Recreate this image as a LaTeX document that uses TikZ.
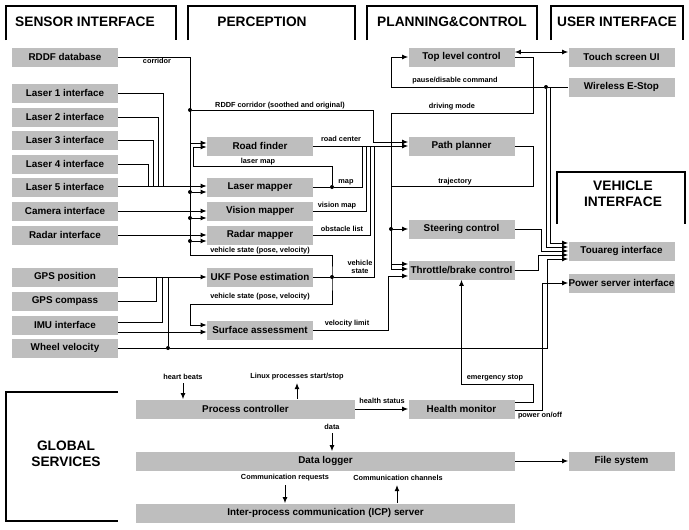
\documentclass[tikz,border=0pt]{standalone}
\usepackage{fontspec}
\setmainfont{Liberation Sans}
\usetikzlibrary{arrows.meta}
\definecolor{boxgray}{RGB}{190,190,190}
\tikzset{
  box/.style={fill=boxgray, inner sep=0pt, minimum width=79.5pt, minimum height=14.25pt, font=\fontsize{7.4}{8}\selectfont\bfseries},
  hdr/.style={font=\fontsize{10.3}{12}\selectfont\bfseries, align=center, inner sep=0pt},
  lab/.style={font=\fontsize{5.5}{6.4}\selectfont\bfseries, inner sep=0pt, align=center},
  hframe/.style={line width=1.5pt},
  conn/.style={line width=0.75pt},
  arr/.style={conn, -{Latex[length=4.5pt,width=3.6pt]}},
  darr/.style={conn, {Latex[length=4.5pt,width=3.6pt]}-{Latex[length=4.5pt,width=3.6pt]}},
  jdot/.style={circle, fill=black, inner sep=0pt, minimum size=3pt},
}
\begin{document}
\begin{tikzpicture}[x=0.75pt,y=-0.75pt]
\useasboundingbox (0,0) rectangle (689,529);
% header frames
\draw[hframe] (6,40) -- (6,6) -- (176,6) -- (176,40);
\node[hdr] (hsens) at (85,22) {SENSOR INTERFACE};
\draw[hframe] (188,40) -- (188,6) -- (355,6) -- (355,40);
\node[hdr] (hperc) at (262,22) {PERCEPTION};
\draw[hframe] (367,40) -- (367,6) -- (537,6) -- (537,40);
\node[hdr] (hplan) at (452,22) {PLANNING\&CONTROL};
\draw[hframe] (551,40) -- (551,6) -- (683,6) -- (683,40);
\node[hdr] (huser) at (617,22) {USER INTERFACE};
\draw[hframe] (557,224) -- (557,172) -- (685,172) -- (685,224);
\node[hdr] (hveh) at (623,194) {VEHICLE\\INTERFACE};
\draw[hframe] (118,392) -- (6,392) -- (6,521) -- (118,521);
\node[hdr] (hglob) at (66,454) {GLOBAL\\SERVICES};

% sensor interface
\node[box] (rddf) at (65,57) {RDDF database};
\node[box] (l1) at (65,93) {Laser 1 interface};
\node[box] (l2) at (65,117) {Laser 2 interface};
\node[box] (l3) at (65,140) {Laser 3 interface};
\node[box] (l4) at (65,164) {Laser 4 interface};
\node[box] (l5) at (65,187) {Laser 5 interface};
\node[box] (cam) at (65,211) {Camera interface};
\node[box] (radar) at (65,235) {Radar interface};
\node[box] (gpsp) at (65,277) {GPS position};
\node[box] (gpsc) at (65,301) {GPS compass};
\node[box] (imu) at (65,325) {IMU interface};
\node[box] (wheel) at (65,348) {Wheel velocity};
% perception
\node[box] (rf) at (260,146) {Road finder};
\node[box] (lm) at (260,187) {Laser mapper};
\node[box] (vm) at (260,211) {Vision mapper};
\node[box] (rm) at (260,235) {Radar mapper};
\node[box] (ukf) at (260,277) {UKF Pose estimation};
\node[box] (sa) at (260,330) {Surface assessment};
% planning
\node[box] (tlc) at (461.5,57) {Top level control};
\node[box] (pp) at (461.5,146) {Path planner};
\node[box] (sc) at (461.5,229) {Steering control};
\node[box] (tb) at (461.5,270) {Throttle/brake control};
% user / vehicle
\node[box] (ts) at (621.5,57) {Touch screen UI};
\node[box] (es) at (621.5,87) {Wireless E-Stop};
\node[box] (tou) at (621.5,251) {Touareg interface};
\node[box] (ps) at (621.5,283) {Power server interface};
% global services
\node[box, minimum width=164.25pt] (pc) at (245.5,409) {Process controller};
\node[box] (hm) at (461.5,409) {Health monitor};
\node[box, minimum width=284.25pt] (dl) at (325.5,461) {Data logger};
\node[box] (fs) at (621.5,461) {File system};
\node[box, minimum width=284.25pt] (icp) at (325.5,513) {Inter-process communication (ICP) server};

% junction dots
\node[jdot] (d1) at (190,110) {};
\node[jdot] (d2) at (190,192) {};
\node[jdot] (d3) at (190,218) {};
\node[jdot] (d4) at (190,241) {};
\node[jdot] (d5) at (332,187) {};
\node[jdot] (d6) at (332,277) {};
\node[jdot] (d7) at (168,348) {};
\node[jdot] (d8) at (391,229) {};
\node[jdot] (d9) at (546,87) {};

% RDDF corridor
\draw[arr] (rddf.east) -| (190,143) -- (rf.west |- 0,143);
\node[lab] (tcorr) at (157,61) {corridor};
\draw[arr] (d1) -- (373,110) -- (373,142) -- (pp.west |- 0,142);
\node[lab] (trddfc) at (280,106) {RDDF corridor (soothed and original)};

% vehicle state distribution
\draw[conn] (190,143) -- (190,255) -- (332,255) -- (d6.center) -- (332,304) -- (190,304) -- (190,325);
\draw[arr] (190,325) -- (sa.west |- 0,325);
\draw[arr] (d2) -- (lm.west |- 0,192);
\draw[arr] (d3) -- (vm.west |- 0,218);
\draw[arr] (d4) -- (rm.west |- 0,241);
\node[lab] (tvs1) at (260,251) {vehicle state (pose, velocity)};
\node[lab] (tvs2) at (260,297) {vehicle state (pose, velocity)};

% lasers
\draw[conn] (l1.east) -| (163,186);
\draw[conn] (l2.east) -| (158,186);
\draw[conn] (l3.east) -| (153,186);
\draw[conn] (l4.east) -| (148,186);
\draw[arr] (l5.east |- 0,186) -- (lm.west |- 0,186);
\draw[arr] (cam.east) -- (vm.west);
\draw[arr] (radar.east) -- (rm.west);

% perception outputs
\draw[arr] (d5) -- (332,166) -- (193,166) -- (193,147) -- (rf.west |- 0,147);
\node[lab] (tlmap) at (258,162) {laser map};
\draw[conn] (lm.east) -- (d5) -- (362,187) -- (362,146);
\node[lab] (tmap) at (346,182) {map};
\draw[conn] (vm.east) -| (366,146);
\node[lab] (tvmap) at (337,206) {vision map};
\draw[conn] (rm.east) -| (370,146);
\node[lab] (tobs) at (342,229) {obstacle list};
\draw[conn] (ukf.east) -- (d6) -- (374,277) -- (374,146);
\node[lab] (tvst) at (360,267) {vehicle\\state};
\draw[arr] (rf.east) -- (pp.west);
\node[lab] (trc) at (341,139) {road center};

% pose inputs
\draw[arr] (gpsp.east) -- (ukf.west);
\draw[conn] (gpsc.east) -| (156,277);
\draw[conn] (imu.east |- 0,322) -| (162,277);
\draw[arr] (imu.east |- 0,332) -- (sa.west |- 0,332);
\draw[conn] (d7) -- (168,277);
\draw[arr] (wheel.east) -- (d7) -- (547,348) -- (547,259) -- (tou.west |- 0,259);

% velocity limit
\draw[arr] (sa.east) -- (388,330) -- (388,276) -- (tb.west |- 0,276);
\node[lab] (tvl) at (347,324) {velocity limit};

% planning & control
\draw[darr] (tlc.east |- 0,52) -- (ts.west |- 0,52);
\draw[arr] (es.west) -- (d9) -- (391,87) -- (391,57) -- (tlc.west);
\node[lab] (tpause) at (455,81) {pause/disable command};
\draw[conn] (tlc.east) -- (533,57) -- (533,113) -- (391,113) -- (391,269);
\node[lab] (tdm) at (452,107) {driving mode};
\draw[conn] (pp.east) -- (533,146) -- (533,186) -- (391,186);
\node[lab] (ttraj) at (455,182) {trajectory};
\draw[arr] (d8) -- (sc.west);
\draw[arr] (391,264) -- (tb.west |- 0,264);
\draw[arr] (391,269) -- (tb.west |- 0,269);

% to Touareg
\draw[arr] (550,87) -- (550,243) -- (tou.west |- 0,243);
\draw[arr] (d9) -- (546,247) -- (tou.west |- 0,247);
\draw[arr] (sc.east) -- (541.5,229) -- (541.5,251) -- (tou.west |- 0,251);
\draw[arr] (tb.east) -- (538.5,270) -- (538.5,255) -- (tou.west |- 0,255);

% health monitor
\draw[arr] (hm.east |- 0,402) -- (533,402) -- (533,384) -- (461.5,384) -- (tb.south);
\node[lab] (tes) at (495,378) {emergency stop};
\draw[arr] (hm.east |- 0,410) -- (542,410) -- (542,283) -- (ps.west);
\node[lab] (tpow) at (540,416) {power on/off};

% global services
\coordinate (hbsrc) at (183,383);
\draw[arr] (hbsrc) -- (pc.north -| hbsrc);
\node[lab] (thb) at (183,377) {heart beats};
\coordinate (lxdst) at (297,383);
\draw[arr] (pc.north -| lxdst) -- (lxdst);
\node[lab] (tlx) at (297,377) {Linux processes start/stop};
\draw[arr] (pc.east) -- (hm.west);
\node[lab] (ths) at (382,401) {health status};
\coordinate (dsrc) at (332,433);
\draw[arr] (dsrc) -- (dl.north -| dsrc);
\node[lab] (tdata) at (332,427) {data};
\draw[arr] (dl.east) -- (fs.west);
\coordinate (crsrc) at (285,485);
\draw[arr] (crsrc) -- (icp.north -| crsrc);
\node[lab] (tcr) at (285,478) {Communication requests};
\coordinate (ccdst) at (397,485);
\draw[arr] (icp.north -| ccdst) -- (ccdst);
\node[lab] (tcc) at (398,478) {Communication channels};
\end{tikzpicture}
\end{document}
